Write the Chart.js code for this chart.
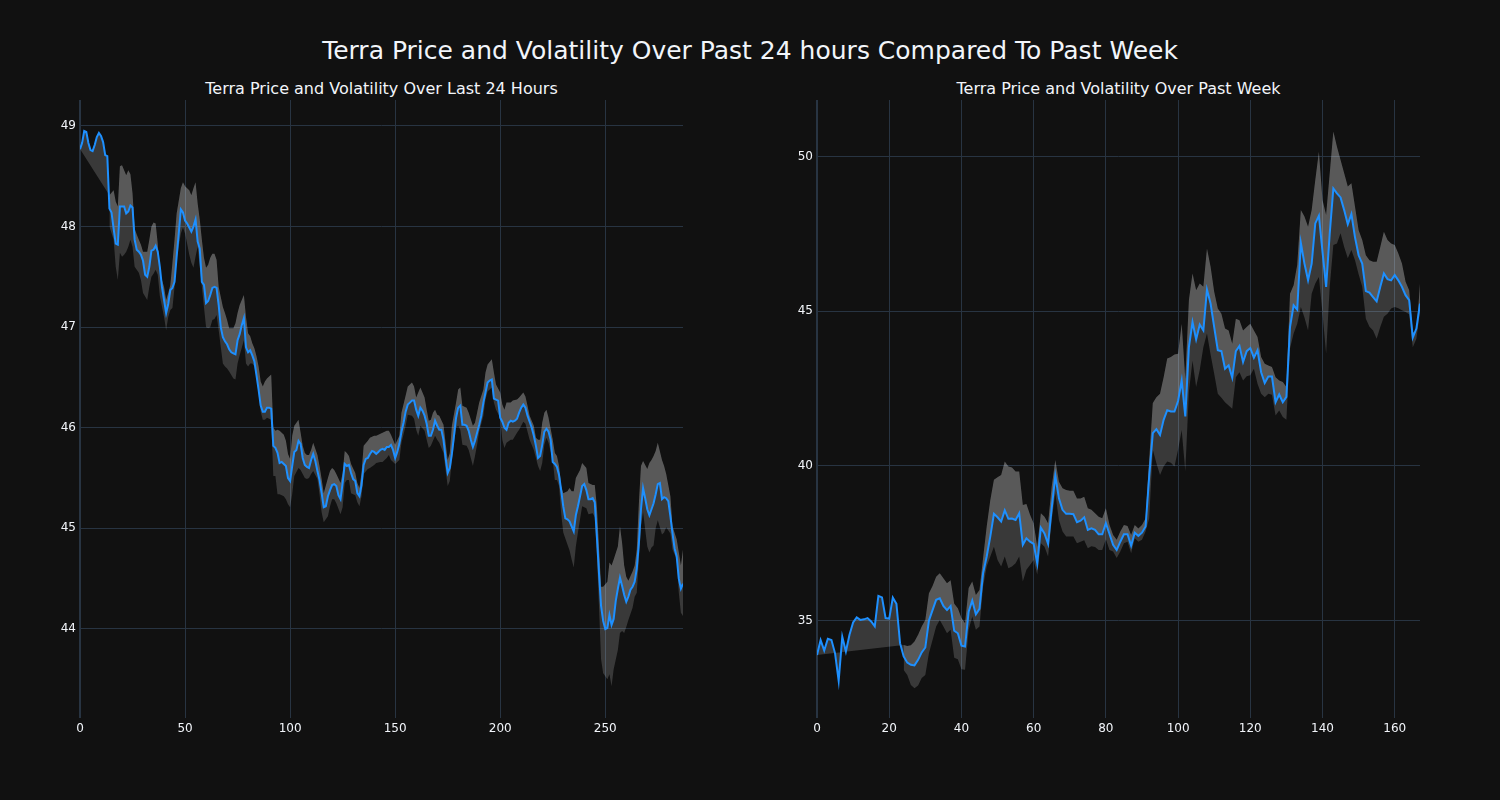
<!DOCTYPE html>
<html>
<head>
<meta charset="utf-8">
<script src="https://cdn.jsdelivr.net/npm/chart.js@4.4.0/dist/chart.umd.min.js"></script>
<style>
html, body { margin: 0; padding: 0; background: #111111; }
#wrap { position: relative; width: 1500px; height: 800px; background: #111111; overflow: hidden;
        font-family: "DejaVu Sans", sans-serif; color: #f2f5fa; }
.t { position: absolute; white-space: nowrap; transform: translate(-50%, -50%); line-height: 1; }
.cv { position: absolute; top: 0; width: 750px; height: 800px; }
</style>
</head>
<body>
<div id="wrap">
  <div class="t" style="left:750px; top:50px; font-size:25px;">Terra Price and Volatility Over Past 24 hours Compared To Past Week</div>
  <div class="t" style="left:381.5px; top:89px; font-size:16px;">Terra Price and Volatility Over Last 24 Hours</div>
  <div class="t" style="left:1118.5px; top:89px; font-size:16px;">Terra Price and Volatility Over Past Week</div>
  <div class="cv" style="left:0px;"><canvas id="c24" width="750" height="800"></canvas></div>
  <div class="cv" style="left:750px;"><canvas id="cWk" width="750" height="800"></canvas></div>
</div>
<script>
// ---------------- data: last 24 hours (5-minute steps) ----------------
const price24 = [
  48.77,48.83,48.95,48.94,48.83,48.76,48.75,48.81,48.89,48.93,
  48.90,48.84,48.71,48.70,48.18,48.14,47.98,47.83,47.82,48.20,
  48.20,48.20,48.13,48.15,48.21,48.19,47.87,47.77,47.75,47.72,
  47.66,47.52,47.50,47.60,47.76,47.77,47.81,47.75,47.60,47.40,
  47.27,47.14,47.23,47.37,47.39,47.45,47.70,47.93,48.17,48.14,
  48.06,48.03,47.99,47.95,48.00,48.07,47.85,47.78,47.45,47.42,
  47.24,47.26,47.32,47.39,47.40,47.39,47.22,47.00,46.90,46.86,
  46.83,46.78,46.75,46.74,46.73,46.87,46.93,47.02,47.09,46.80,
  46.75,46.77,46.72,46.66,46.52,46.38,46.22,46.16,46.16,46.20,
  46.20,46.19,45.82,45.80,45.75,45.65,45.66,45.64,45.62,45.50,
  45.47,45.62,45.76,45.78,45.87,45.84,45.70,45.63,45.61,45.60,
  45.68,45.74,45.67,45.57,45.48,45.35,45.21,45.22,45.32,45.38,
  45.43,45.44,45.42,45.33,45.29,45.45,45.64,45.62,45.63,45.55,
  45.49,45.47,45.35,45.32,45.43,45.63,45.69,45.70,45.74,45.77,
  45.76,45.74,45.76,45.78,45.79,45.78,45.81,45.81,45.83,45.78,
  45.70,45.76,45.84,45.96,46.05,46.16,46.23,46.25,46.27,46.27,
  46.18,46.12,46.20,46.17,46.12,46.04,45.92,45.92,45.98,46.07,
  46.02,45.98,45.98,45.88,45.70,45.55,45.60,45.74,45.92,46.10,
  46.20,46.22,46.03,46.03,46.02,45.97,45.88,45.81,45.87,45.95,
  46.03,46.12,46.25,46.35,46.45,46.47,46.48,46.29,46.28,46.27,
  46.10,46.06,46.00,45.98,46.05,46.07,46.06,46.07,46.09,46.15,
  46.20,46.23,46.20,46.12,46.06,46.00,45.92,45.82,45.70,45.72,
  45.83,45.96,45.99,45.96,45.88,45.66,45.64,45.61,45.53,45.38,
  45.22,45.10,45.09,45.07,45.02,44.97,45.13,45.22,45.32,45.42,
  45.44,45.38,45.29,45.29,45.30,45.26,44.92,44.56,44.23,44.08,
  44.00,44.01,44.14,44.04,44.10,44.28,44.40,44.51,44.43,44.34,
  44.27,44.32,44.39,44.42,44.47,44.60,44.85,45.19,45.40,45.30,
  45.19,45.13,45.19,45.25,45.34,45.44,45.45,45.29,45.31,45.30,
  45.27,45.12,44.95,44.80,44.72,44.50,44.40,44.45
];
const band24X = [
  14,16,17,18,19,20,21,22,23,24,25,26,27,28,29,30,32,33,34,35,36,37,38,40,41,42,43,44,45,46,
  48,49,50,51,52,53,54,55,56,57,58,59,60,61,62,63,64,65,66,68,69,70,71,73,74,75,76,78,79,80,
  81,82,83,84,85,86,87,88,89,91,92,93,94,95,97,98,99,100,101,102,104,105,106,107,108,109,110,111,113,114,
  115,116,118,119,120,121,122,124,125,126,127,128,129,131,132,133,134,135,137,138,140,141,143,144,146,147,148,150,152,153,
  155,156,158,159,160,161,162,164,165,166,167,168,169,170,171,173,174,175,176,177,179,180,181,182,184,185,187,188,189,190,
  192,193,194,196,197,198,200,201,202,203,205,206,208,209,211,212,213,214,216,217,218,219,220,221,222,223,225,226,227,228,
  229,230,232,233,234,235,236,237,238,239,241,242,244,245,246,247,248,249,251,252,253,254,256,257,258,259,260,261,263,264,
  265,266,267,268,270,271,272,273,274,275,277,278,279,281,282,284,285,286,287
];
const upper24 = [
  48.31,48.36,48.25,48.20,48.60,48.61,48.56,48.51,48.56,48.52,48.33,47.98,47.92,47.87,47.82,47.75,47.75,47.87,48.00,48.04,48.03,47.83,47.54,47.40,47.27,47.34,47.42,47.64,47.87,48.13,
  48.38,48.44,48.40,48.38,48.36,48.31,48.38,48.44,48.23,48.07,47.87,47.69,47.59,47.62,47.69,47.73,47.73,47.67,47.40,47.20,47.14,47.07,46.99,46.99,47.04,47.14,47.22,47.32,47.10,46.94,
  46.91,46.84,46.79,46.71,46.61,46.46,46.41,46.46,46.49,46.53,46.00,45.97,45.98,45.97,45.93,45.87,45.74,45.69,45.92,46.02,46.08,45.95,45.82,45.75,45.73,45.73,45.78,45.85,45.73,45.62,
  45.49,45.35,45.50,45.57,45.60,45.58,45.54,45.45,45.55,45.77,45.75,45.72,45.64,45.55,45.45,45.40,45.55,45.82,45.87,45.90,45.92,45.92,45.94,45.95,45.97,45.97,45.93,45.83,45.92,46.15,
  46.32,46.41,46.45,46.41,46.30,46.35,46.40,46.30,46.18,46.07,46.08,46.15,46.18,46.13,46.12,46.03,45.85,45.68,45.75,46.02,46.25,46.38,46.40,46.22,46.20,46.15,46.02,46.05,46.15,46.25,
  46.38,46.55,46.63,46.68,46.55,46.43,46.35,46.23,46.18,46.25,46.25,46.27,46.28,46.30,46.35,46.31,46.22,46.12,46.02,45.90,45.88,45.88,46.05,46.15,46.18,46.10,45.88,45.75,45.72,45.62,
  45.42,45.35,45.37,45.40,45.37,45.37,45.50,45.54,45.58,45.65,45.60,45.45,45.43,45.43,45.22,44.82,44.42,44.42,44.47,44.66,44.63,44.69,44.82,45.02,44.86,44.63,44.52,44.48,44.57,44.63,
  44.79,45.25,45.62,45.67,45.59,45.65,45.68,45.72,45.77,45.85,45.68,45.62,45.54,45.32,45.02,44.89,44.76,44.63,44.79
];
const lower24 = [
  48.00,47.87,47.60,47.47,47.74,47.70,47.72,47.75,47.80,47.87,47.80,47.60,47.57,47.54,47.47,47.34,47.27,47.40,47.50,47.53,47.57,47.52,47.31,47.10,46.97,47.10,47.17,47.19,47.40,47.67,
  47.93,47.99,47.93,47.83,47.72,47.64,47.59,47.70,47.80,47.60,47.40,47.20,47.00,46.99,47.00,47.07,47.08,47.12,46.97,46.64,46.61,46.59,46.56,46.49,46.48,46.64,46.72,46.87,46.64,46.61,
  46.64,46.64,46.61,46.51,46.34,46.16,46.08,46.08,46.10,46.08,45.52,45.52,45.34,45.34,45.32,45.29,45.24,45.21,45.34,45.52,45.60,45.58,45.54,45.50,45.49,45.50,45.54,45.57,45.49,45.34,
  45.16,45.06,45.12,45.22,45.29,45.29,45.25,45.14,45.21,45.45,45.48,45.48,45.35,45.33,45.26,45.22,45.32,45.54,45.59,45.60,45.63,45.65,45.66,45.66,45.70,45.73,45.68,45.64,45.68,45.85,
  46.02,46.13,46.12,46.09,45.98,45.92,46.02,45.97,45.88,45.80,45.82,45.87,45.92,45.88,45.85,45.75,45.58,45.42,45.47,45.68,46.00,46.02,45.98,45.83,45.82,45.78,45.62,45.72,45.83,45.96,
  46.12,46.28,46.36,46.40,46.25,46.18,46.10,45.88,45.80,45.85,45.88,45.88,45.95,45.98,46.06,46.04,45.96,45.88,45.78,45.70,45.62,45.57,45.65,45.83,45.90,45.85,45.68,45.48,45.48,45.42,
  45.15,44.96,44.84,44.78,44.69,44.61,44.82,44.96,45.09,45.22,45.20,45.14,45.15,45.11,44.75,44.23,43.70,43.56,43.50,43.55,43.43,43.60,43.79,43.96,43.98,43.96,44.02,44.09,44.21,44.32,
  44.36,44.69,45.02,45.16,44.82,44.76,44.81,44.83,45.00,45.08,44.94,44.96,45.01,44.95,44.79,44.69,44.36,44.16,44.13
];
const ticks24X = [0, 50, 100, 150, 200, 250];
const ticks24Y = [44, 45, 46, 47, 48, 49];

// ---------------- data: past week (hourly steps) ----------------
const priceWk = [
  33.89,34.37,34.03,34.41,34.37,33.94,33.05,34.48,34.00,34.54,
  34.94,35.10,35.02,35.04,35.08,34.97,34.81,35.80,35.75,35.08,
  35.06,35.74,35.54,34.27,33.84,33.64,33.57,33.55,33.73,33.97,
  34.13,35.00,35.34,35.67,35.72,35.47,35.34,35.47,34.67,34.59,
  34.19,34.16,35.29,35.65,35.20,35.38,36.53,37.07,37.72,38.45,
  38.34,38.20,38.56,38.29,38.30,38.25,38.47,37.45,37.66,37.55,
  37.48,36.85,38.00,37.82,37.48,38.63,39.68,38.95,38.58,38.45,
  38.45,38.44,38.18,38.23,38.34,37.93,37.98,37.93,37.79,37.79,
  38.15,37.80,37.45,37.28,37.55,37.79,37.79,37.42,37.84,37.74,
  37.84,38.04,39.66,41.06,41.19,41.00,41.49,41.80,41.76,41.76,
  42.10,42.76,41.60,43.84,44.65,44.09,44.57,44.38,45.70,45.25,
  44.49,43.74,43.71,43.14,43.25,42.85,43.71,43.88,43.36,43.71,
  43.81,43.50,43.74,43.03,42.68,42.89,42.89,42.06,42.31,42.06,
  42.23,44.49,45.19,45.05,47.21,46.54,46.00,46.54,47.84,48.09,
  46.92,45.79,47.52,48.97,48.81,48.68,48.27,47.81,48.14,47.39,
  46.81,46.54,45.65,45.60,45.46,45.32,45.79,46.22,46.04,46.00,
  46.17,46.00,45.79,45.52,45.36,44.15,44.44,45.25
];
const bandWkStart = 24;
const upperWk = [
  34.21,34.18,34.20,34.32,34.54,34.81,35.02,35.88,36.12,36.42,36.53,36.37,36.21,36.30,35.54,35.40,35.08,34.91,36.05,36.26,
  35.83,35.99,37.02,38.04,38.90,39.55,39.63,39.71,40.14,39.98,39.95,39.82,39.82,38.74,38.77,38.42,38.15,37.39,38.47,38.36,
  38.15,39.33,40.19,39.49,39.28,39.22,39.20,39.20,38.95,38.95,39.00,38.63,38.58,38.47,38.36,38.31,38.63,38.10,37.77,37.61,
  37.88,38.09,38.06,37.77,38.09,37.98,38.09,38.31,40.20,42.03,42.22,42.33,42.87,43.47,43.52,43.60,43.63,44.60,42.80,45.36,
  46.22,45.68,45.90,45.79,47.03,46.44,45.63,45.09,44.92,44.44,44.38,43.95,44.76,44.71,44.38,44.49,44.60,44.38,44.17,43.52,
  43.30,43.25,43.20,42.87,42.76,42.71,42.55,45.57,45.84,46.50,48.27,48.06,47.73,48.27,49.24,50.16,48.60,48.11,49.46,50.81,
  50.32,49.89,49.46,49.03,49.14,48.38,47.62,47.30,46.81,46.65,46.60,46.60,47.08,47.57,47.30,47.19,47.14,46.87,46.54,45.95,
  45.68,44.33,44.28,45.90
];
const lowerWk = [
  33.40,33.24,32.92,32.81,32.90,33.14,33.24,33.94,34.37,34.81,35.02,34.81,34.59,34.70,33.80,33.75,33.43,33.41,34.70,35.13,
  34.70,34.81,36.10,36.75,37.07,37.39,36.96,36.75,37.07,36.69,36.75,36.85,37.07,36.26,36.64,36.80,36.96,36.48,37.50,37.39,
  37.07,38.25,39.12,38.25,37.88,37.72,37.72,37.72,37.50,37.55,37.60,37.34,37.40,37.38,37.28,37.28,37.63,37.28,37.23,37.02,
  37.23,37.50,37.55,37.18,37.66,37.55,37.61,37.88,38.30,40.52,40.09,39.71,39.98,40.14,40.10,39.98,40.52,41.16,39.82,42.40,
  43.40,42.55,43.10,43.84,44.28,43.60,42.98,42.33,42.20,42.06,41.95,41.85,42.87,43.03,42.76,42.90,42.93,43.14,42.66,42.33,
  42.22,42.33,42.30,41.63,41.79,41.58,41.49,43.80,44.28,44.60,45.14,44.80,44.38,45.57,45.90,46.11,44.92,43.63,45.79,47.14,
  47.19,47.52,47.08,46.71,46.98,46.65,46.20,45.79,44.76,44.50,44.38,44.11,44.49,44.82,44.92,45.09,45.14,45.10,45.03,44.98,
  44.90,43.84,44.11,44.98
];
const ticksWkX = [0, 20, 40, 60, 80, 100, 120, 140, 160];
const ticksWkY = [35, 40, 45, 50];

// ---------------- styling ----------------
const LINE = '#1e90ff';
const BAND = 'rgba(255,255,255,0.17)';
const GRID = '#283442';
const TXT = '#f2f5fa';

Chart.defaults.font.family = '"DejaVu Sans", sans-serif';
Chart.defaults.font.size = 12;
Chart.defaults.color = TXT;

function buildChart(id, price, bandX, upper, lower, cfg) {
  const priceData = price.map((y, i) => ({ x: i, y }));
  const upperData = [{ x: 0, y: price[0] }].concat(bandX.map((x, k) => ({ x, y: upper[k] })));
  const lowerData = bandX.map((x, k) => ({ x, y: lower[k] }));
  return new Chart(document.getElementById(id), {
    type: 'line',
    data: {
      datasets: [
        { data: priceData, borderColor: LINE, borderWidth: 2, pointRadius: 0, fill: false, tension: 0 },
        { data: upperData, borderColor: 'rgba(0,0,0,0)', borderWidth: 0, pointRadius: 0, backgroundColor: BAND, fill: 0, tension: 0 },
        { data: lowerData, borderColor: 'rgba(0,0,0,0)', borderWidth: 0, pointRadius: 0, backgroundColor: BAND, fill: 1, tension: 0 }
      ]
    },
    options: {
      responsive: false,
      animation: false,
      devicePixelRatio: 1,
      parsing: true,
      layout: { padding: cfg.padding },
      plugins: { legend: { display: false }, tooltip: { enabled: false }, title: { display: false } },
      scales: {
        x: {
          type: 'linear', min: 0, max: cfg.xMax,
          afterBuildTicks: s => { s.ticks = cfg.xTicks.map(v => ({ value: v })); },
          afterFit: s => { s.height = 30; },
          grid: { color: GRID, drawTicks: false, lineWidth: c => (c.tick && c.tick.value === 0 ? 2 : 1) },
          border: { display: false },
          ticks: { color: TXT, padding: 4, maxRotation: 0, autoSkip: false, font: { size: 12 } }
        },
        y: {
          type: 'linear', min: cfg.yMin, max: cfg.yMax,
          afterBuildTicks: s => { s.ticks = cfg.yTicks.map(v => ({ value: v })); },
          afterFit: s => { s.width = 40; },
          grid: { color: GRID, drawTicks: false, lineWidth: 1 },
          border: { display: false },
          ticks: { color: TXT, padding: 4, autoSkip: false, font: { size: 12 } }
        }
      }
    }
  });
}

buildChart('c24', price24, band24X, upper24, lower24, {
  xMax: 287, yMin: 43.115, yMax: 49.258, xTicks: ticks24X, yTicks: ticks24Y,
  padding: { left: 40, right: 67, top: 100, bottom: 52 }
});
buildChart('cWk', priceWk, upperWk.map((_, k) => bandWkStart + k), upperWk, lowerWk, {
  xMax: 167, yMin: 31.85, yMax: 51.83, xTicks: ticksWkX, yTicks: ticksWkY,
  padding: { left: 27, right: 80, top: 100, bottom: 52 }
});
</script>
</body>
</html>
